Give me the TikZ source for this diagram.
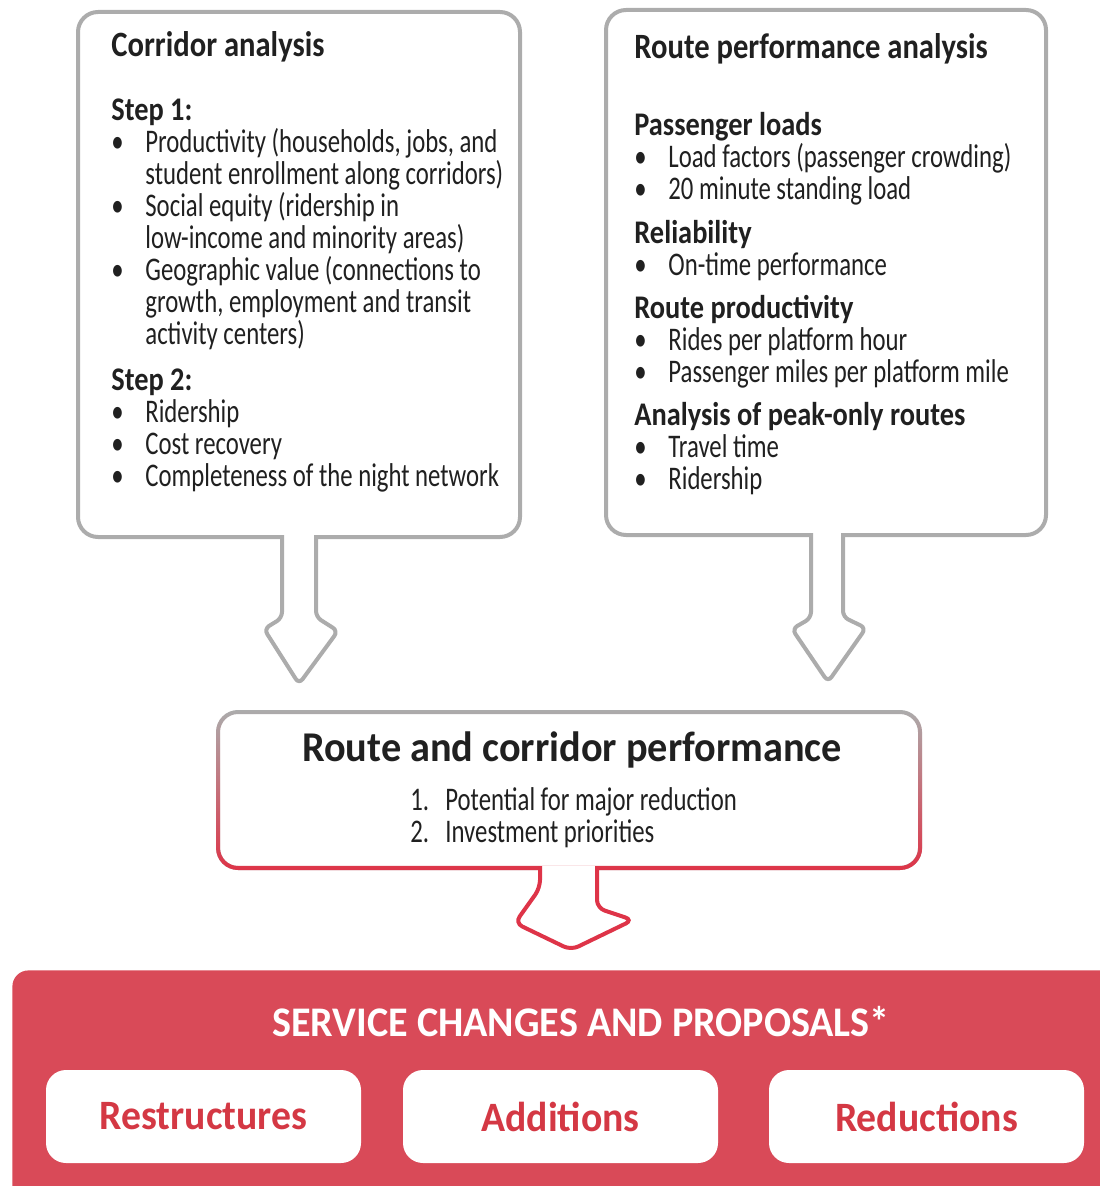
\documentclass[tikz,border=0pt]{standalone}
\usepackage{fontspec}
\setmainfont{Carlito}[FakeStretch=0.75]
\newfontfamily\headfont{Carlito}[FakeStretch=0.86]
\newfontfamily\widefont{Carlito}[FakeStretch=0.95]
\usetikzlibrary{positioning, calc, fadings}

\definecolor{bordergray}{RGB}{172,172,172}
\definecolor{bandred}{RGB}{217,74,88}
\definecolor{labelred}{RGB}{212,56,68}
\definecolor{accentred}{RGB}{222,52,72}
\definecolor{inkgray}{RGB}{32,32,32}

\tikzfading[name=fade up, top color=transparent!100, middle color=transparent!45, bottom color=transparent!0]

\newcommand{\bodyfont}{\fontsize{16.5}{16}\selectfont\lineskiplimit-20pt\relax}
\newcommand{\blt}{\makebox[17pt][l]{\textbullet}}
\newcommand{\cont}{\hspace*{17pt}}
\newcommand{\hd}[1]{{\headfont\bfseries #1}}
\newcommand{\boxtitle}[1]{{\headfont\bfseries\fontsize{17.8}{16}\selectfont #1}}

\begin{document}
\begin{tikzpicture}[x=0.5pt, y=-0.5pt,
  panel/.style={draw=bordergray, line width=2pt, fill=white, rounded corners=10pt, outer sep=0pt, inner sep=0pt},
  body/.style={inner sep=0pt, anchor=north west, align=left, text=inkgray, font=\bodyfont},
  outcome/.style={fill=white, rounded corners=10pt, outer sep=0pt, minimum width=157.5pt, minimum height=46.5pt, text=labelred, font=\widefont\bfseries\fontsize{20.9}{24}\selectfont}]
\useasboundingbox (0,0) rectangle (1099,1186);

\node[panel, minimum width=221pt, minimum height=262.5pt] (corr) at (299,274.5) {};
\node[panel, minimum width=220pt, minimum height=262.5pt] (route) at (826,272.5) {};

\node[body] (corrtext) at (111,31.5) {\boxtitle{Corridor analysis}\\[16pt]
\hd{Step 1:}\\
\blt Productivity (households, jobs, and\\
\cont student enrollment along corridors)\\
\blt Social equity (ridership in\\
\cont low-income and minority areas)\\
\blt Geographic value (connections to\\
\cont growth, employment and transit\\
\cont activity centers)\\[7pt]
\hd{Step 2:}\\
\blt Ridership\\
\blt Cost recovery\\
\blt Completeness of the night network};

\node[body] (routetext) at (634,33) {\boxtitle{Route performance analysis}\\[22.5pt]
\hd{Passenger loads}\\
\blt Load factors (passenger crowding)\\
\blt 20 minute standing load\\[6pt]
\hd{Reliability}\\
\blt On-time performance\\[5.5pt]
\hd{Route productivity}\\
\blt Rides per platform hour\\
\blt Passenger miles per platform mile\\[5.5pt]
\hd{Analysis of peak-only routes}\\
\blt Travel time\\
\blt Ridership};

\draw[bordergray, line width=2pt, fill=white, rounded corners=3pt] ($(corr.south)+(-17,-2)$) -- ($(corr.south)+(-17,81)$) -- ($(corr.south)+(-35,92)$) -- ($(corr.south)+(0,147)$) -- ($(corr.south)+(39,94)$) -- ($(corr.south)+(17,80)$) -- ($(corr.south)+(17,-2)$);
\draw[bordergray, line width=2pt, fill=white, rounded corners=3pt] ($(route.south)+(-15,-2)$) -- ($(route.south)+(-15,83)$) -- ($(route.south)+(-34,94)$) -- ($(route.south)+(2,147)$) -- ($(route.south)+(40,93)$) -- ($(route.south)+(17,82)$) -- ($(route.south)+(17,-2)$);

\node[panel, minimum width=351pt, minimum height=78pt] (perf) at (569,790) {};
\draw[accentred, line width=2pt, rounded corners=10pt, path fading=fade up] (perf.north west) rectangle (perf.south east);
\draw[accentred, line width=2pt, fill=white, rounded corners=4pt] ($(perf.south)+(-29,-2)$) -- ($(perf.south)+(-29,20)$) -- ($(perf.south)+(-54,55)$) -- ($(perf.south)+(2,82)$) -- ($(perf.south)+(64,52)$) -- ($(perf.south)+(28,40)$) -- ($(perf.south)+(28,-2)$);
\node[anchor=base, text=inkgray, font=\widefont\bfseries\fontsize{21.2}{22}\selectfont] (perftitle) at (572,761) {Route and corridor performance};
\node[body] (perflist) at (410,787) {\makebox[17.5pt][l]{1.}Potential for major reduction\\
\makebox[17.5pt][l]{2.}Investment priorities};

\node[fill=bandred, rounded corners=8pt, anchor=north west, inner sep=0pt, minimum width=560pt, minimum height=125pt] (band) at (12,970) {};
\node[anchor=base, text=white, font=\widefont\bfseries\fontsize{21.1}{24}\selectfont] (svc) at (581,1036) {SERVICE CHANGES AND PROPOSALS*};
\node[outcome] (restr) at (203.5,1116.5) {Restructures};
\node[outcome, right=21pt of restr] (addit) {Additions};
\node[outcome, right=25.5pt of addit] (reduc) {Reductions};
\end{tikzpicture}
\end{document}
